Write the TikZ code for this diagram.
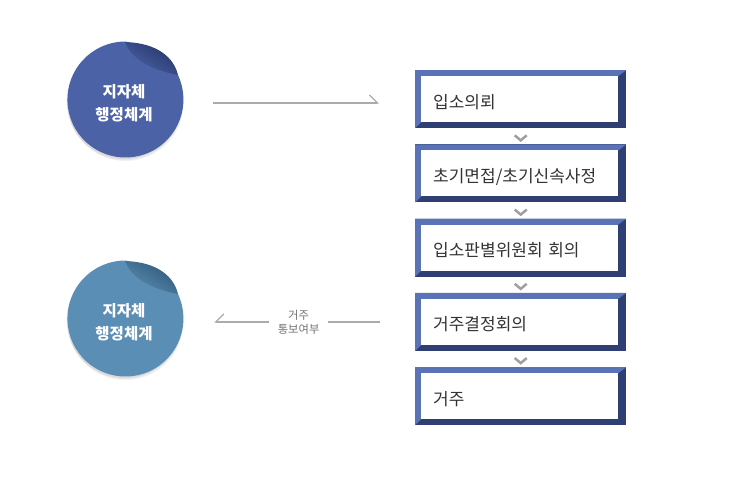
\documentclass[tikz,border=0pt]{standalone}
\usepackage{fontspec}
\setmainfont{Noto Sans CJK KR}
\usetikzlibrary{arrows.meta,calc}
\definecolor{boxlight}{HTML}{5A72B6}
\definecolor{boxdark}{HTML}{2F3F73}
\definecolor{gov}{HTML}{4B63A6}
\definecolor{govdark}{HTML}{26356A}
\definecolor{home}{HTML}{5B8EB5}
\definecolor{homedark}{HTML}{2F5877}
\definecolor{lgray}{HTML}{ABABAB}
\definecolor{txt}{HTML}{333333}

\tikzset{
  stepbox/.style={minimum width=211pt, minimum height=58pt, inner xsep=18pt, text width=175pt,
    text height=18pt, text depth=0pt,
    align=left, anchor=north west, text=txt, font=\fontsize{17}{20}\selectfont,
    path picture={
      \fill[boxdark] (path picture bounding box.north west) rectangle (path picture bounding box.south east);
      \fill[boxlight] (path picture bounding box.north west) -- (path picture bounding box.north east)
        -- ([shift={(-8,6)}]path picture bounding box.north east)
        -- ([shift={(6,-6)}]path picture bounding box.south west) -- (path picture bounding box.south west) -- cycle;
      \fill[white] ([shift={(6,6)}]path picture bounding box.north west) rectangle ([shift={(-8,-6)}]path picture bounding box.south east);
    }},
  govnode/.style={circle, minimum size=116pt, text=white, align=center, yshift=-3pt,
    font=\fontsize{15.5}{23}\selectfont\bfseries},
  flowline/.style={draw=lgray, line width=1.3pt},
  chev/.style={draw=gray!75, line width=2.5pt},
}

\begin{document}
\begin{tikzpicture}[x=1pt, y=-1pt]
  \useasboundingbox (0,0) rectangle (730,488);

  % peeled stickers
  \foreach \n/\cy/\base/\deep in {g1/100/gov/govdark, g2/319/home/homedark} {
    \foreach \k in {1,2,3}
      \fill[black, opacity=.05] (124+\k/2,\cy+\k) circle (58);
    \fill[\base] (178,\cy-25) arc[start angle=-25, end angle=271, radius=58] -- cycle;
    \shade[top color=\deep, bottom color=\base, shading angle=-33]
      (125,\cy-58) .. controls (158,\cy-57) and (174,\cy-42) .. (178,\cy-25)
      .. controls (152,\cy-30) and (132,\cy-40) .. (125,\cy-58);
    \node[govnode] (\n) at (124,\cy) {지자체\\행정체계};
  }

  \foreach \t [count=\i] in {입소의뢰, 초기면접/초기신속사정, 입소판별위원회 회의, 거주결정회의, 거주}
    \node[stepbox] (b\i) at (415, {70+(\i-1)*74.25}) {\t};

  \foreach \i/\j in {1/2,2/3,3/4,4/5}
    \draw[chev] ($(b\i.south)!.5!(b\j.north)+(-6,-1)$) -- ++(6,5) -- ++(6,-5);

  \draw[flowline, -{Straight Barb[harpoon, length=8pt, angle'=90]}, shorten <=31pt, shorten >=36pt]
    (g1.east) -- (g1.east -| b1.west);
  \draw[flowline, -{Straight Barb[harpoon, swap, length=8pt, angle'=90]}, shorten <=35pt, shorten >=32pt]
    (b4.west) -- (b4.west -| g2.east)
    node[midway, fill=white, inner xsep=9pt, align=center, text=black!55, font=\fontsize{11.3}{14}\selectfont] {거주\\통보여부};
\end{tikzpicture}
\end{document}
